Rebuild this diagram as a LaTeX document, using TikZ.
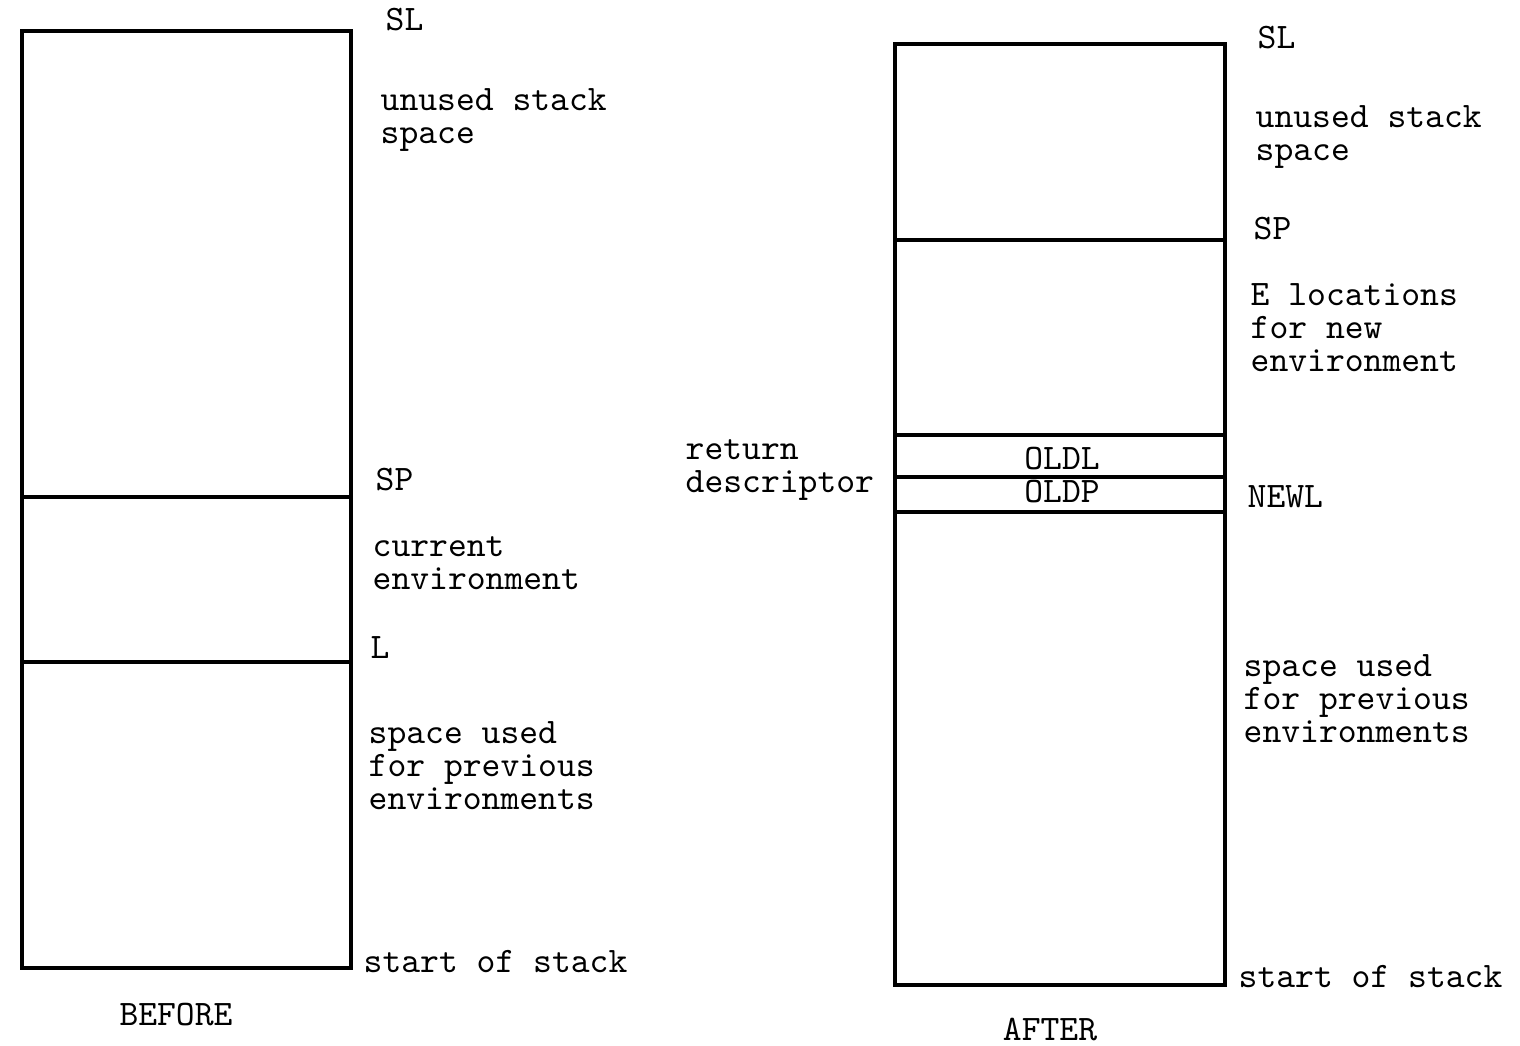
\documentclass[tikz,border=0pt]{standalone}
\usetikzlibrary{positioning}

\begin{document}
\begin{tikzpicture}[
  x=0.01cm, y=-0.01cm,
  font=\ttfamily\fontsize{10.2pt}{9.4pt}\selectfont,
  stackbox/.style={draw=black, line width=1.4pt},
  divider/.style={draw=black, line width=1.3pt},
  thindiv/.style={draw=black, line width=1.0pt},
  tag/.style={anchor=west, align=left, inner sep=0pt},
  cell/.style={inner sep=0pt},
  caption/.style={inner sep=0pt, font=\ttfamily\fontsize{10.2pt}{9.4pt}\selectfont}
]
\useasboundingbox (0,0) rectangle (1520,1046);

% BEFORE stack
\draw[stackbox] (22,31) rectangle (351,968);
\draw[divider] (22,497) -- (351,497);
\draw[divider] (22,662) -- (351,662);
\node[tag] (slA)   at (385,20)  {SL};
\node[tag] (freeA) at (380,120) {unused stack\\space};
\node[tag] (spA)   at (375,480) {SP};
\node[tag] (curA)  at (372,563) {current\\environment};
\node[tag] (lA)    at (370,648) {L};
\node[tag] (prevA) at (368,766) {space used\\for previous\\environments};
\node[tag] (botA)  at (363,962) {start of stack};
\node[caption] (before) at (176,1015) {BEFORE};

% AFTER stack
\draw[stackbox] (895,44) rectangle (1225,985);
\draw[divider] (895,240) -- (1225,240);
\foreach \y in {435,477,512}
  \draw[thindiv] (895,\y) -- (1225,\y);
\node[cell] (oldl) at (1062,459) {OLDL};
\node[cell] (oldp) at (1062,492) {OLDP};
\node[tag] (slB)   at (1257,38)  {SL};
\node[tag] (freeB) at (1255,137) {unused stack\\space};
\node[tag] (spB)   at (1253,229) {SP};
\node[tag] (envB)  at (1250,328) {E locations\\for new\\environment};
\node[tag] (retB)  at (685,470)  {return\\descriptor};
\node[tag] (newl)  at (1247,497) {NEWL};
\node[tag] (prevB) at (1243,699) {space used\\for previous\\environments};
\node[tag] (botB)  at (1238,977) {start of stack};
\node[caption] (after) at (1050,1030) {AFTER};
\end{tikzpicture}
\end{document}
